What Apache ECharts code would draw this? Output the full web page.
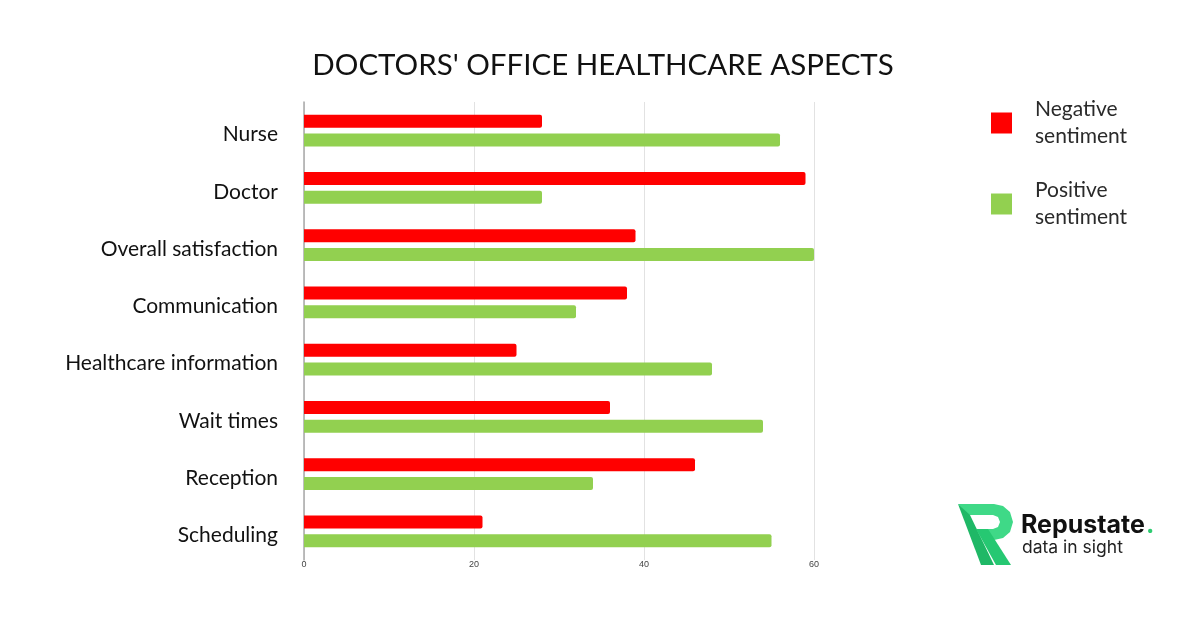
<!DOCTYPE html>
<html>
<head>
<meta charset="utf-8">
<script src="https://cdn.jsdelivr.net/npm/echarts@6/dist/echarts.min.js"></script>
<style>html,body{margin:0;padding:0;background:#fff}#c{width:1200px;height:628px}</style>
</head>
<body>
<div id="c"></div>
<script>
var titleText = "DOCTORS' OFFICE HEALTHCARE ASPECTS";
var categories = ['Nurse', 'Doctor', 'Overall satisfaction', 'Communication', 'Healthcare information', 'Wait times', 'Reception', 'Scheduling'];
var negativeValues = [28, 59, 39, 38, 25, 36, 46, 21];
var positiveValues = [56, 28, 60, 32, 48, 54, 34, 55];
var seriesNames = ['Negative sentiment', 'Positive sentiment'];
var xTicks = [0, 20, 40, 60];

var chart = echarts.init(document.getElementById('c'), null, {renderer: 'canvas'});
chart.setOption({
  backgroundColor: '#ffffff',
  animation: false,
  title: {
    text: titleText,
    left: 598, top: 45, textAlign: 'center',
    textStyle: {fontFamily: 'Lato', fontSize: 29.5, fontWeight: 'normal', color: '#111'}
  },
  legend: {
    orient: 'vertical', left: 991, top: 96, padding: 0,
    itemWidth: 21, itemHeight: 21, itemGap: 27,
    icon: 'rect',
    data: seriesNames,
    formatter: function (n) { return n.replace(' ', '\n'); },
    textStyle: {fontFamily: 'Lato', fontSize: 21, lineHeight: 27, color: '#2a2a2a', padding: [0, 0, 0, 18]}
  },
  grid: {left: 304, right: 386, top: 102, bottom: 68, containLabel: false},
  xAxis: {
    type: 'value', min: xTicks[0], max: xTicks[xTicks.length - 1], interval: 20,
    axisLine: {show: false}, axisTick: {show: false},
    axisLabel: {fontFamily: 'Liberation Sans', fontSize: 9, color: '#444', margin: 0},
    splitLine: {lineStyle: {color: '#e2e2e2', width: 1}}
  },
  yAxis: {
    type: 'category', data: categories, inverse: true,
    axisLine: {show: true, lineStyle: {color: '#a8a8a8', width: 1.5}},
    axisTick: {show: false},
    axisLabel: {
      margin: 26,
      formatter: function (v) { return '{a|' + v + '}'; },
      rich: {a: {fontFamily: 'Lato', fontSize: 21, color: '#111', padding: [8, 0, 0, 0]}}
    }
  },
  series: [
    {name: seriesNames[0], type: 'bar', data: negativeValues, barWidth: 13, barGap: '46%',
     itemStyle: {color: '#ff0000', borderRadius: [0, 2, 2, 0]}},
    {name: seriesNames[1], type: 'bar', data: positiveValues, barWidth: 13, barGap: '46%',
     itemStyle: {color: '#92d050', borderRadius: [0, 2, 2, 0]}}
  ],
  graphic: [
    {type: 'polygon', shape: {points: [[958,504],[994,504],[1003,506],[1010,512],[1013,522],[1010,532],[1003,538],[994,540],[984,540],[976,529],[993,529],[998,527],[1000,522],[998,517],[993,515],[968,515]]},
     style: {fill: '#3fd987'}},
    {type: 'polygon', shape: {points: [[958,504],[970,515],[994,565],[981,565]]},
     style: {fill: '#1fb866'}},
    {type: 'polygon', shape: {points: [[976,529],[988,529],[1011,565],[996,565]]},
     style: {fill: '#26c872'}},
    {type: 'text', style: {x: 1021, y: 525, text: 'Repustate', font: 'bold 25px Inter', fill: '#111', verticalAlign: 'middle'}},
    {type: 'text', style: {x: 1146, y: 525, text: '.', font: 'bold 25px Inter', fill: '#2ecc71', verticalAlign: 'middle'}},
    {type: 'text', style: {x: 1022, y: 548, text: 'data in sight', font: '17.5px Inter', fill: '#222', verticalAlign: 'middle'}}
  ]
});
</script>
</body>
</html>
